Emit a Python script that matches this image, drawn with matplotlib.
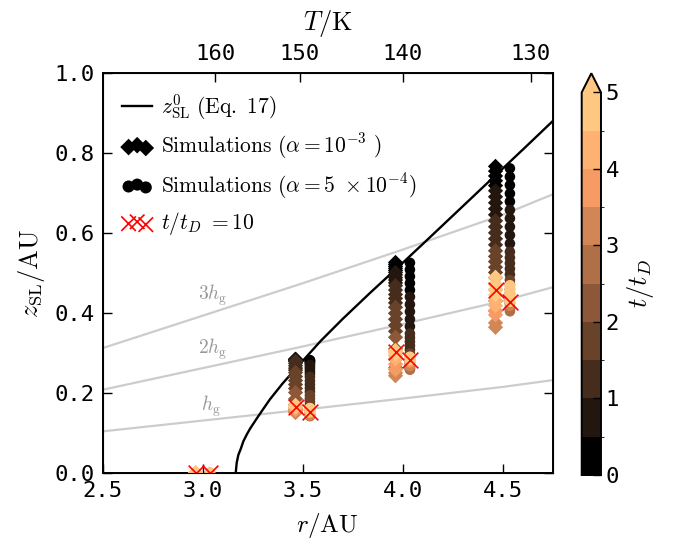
import numpy as np
import matplotlib
matplotlib.use("Agg")
import matplotlib.pyplot as plt
from matplotlib.colors import ListedColormap, BoundaryNorm
from matplotlib.cm import ScalarMappable
from matplotlib.lines import Line2D

plt.rcParams['font.family'] = 'DejaVu Sans Mono'
plt.rcParams['mathtext.fontset'] = 'cm'
plt.rcParams['font.size'] = 16

# snow line height z_SL^0 (Eq. 17)
r_curve = [3.165, 3.17, 3.178, 3.19, 3.203, 3.22, 3.237, 3.27, 3.30, 3.336, 3.40,
           3.50, 3.59, 3.70, 3.837, 4.0, 4.128, 4.287, 4.45, 4.603, 4.75]
z_curve = [0.0, 0.026, 0.045, 0.060, 0.079, 0.096, 0.111, 0.136, 0.158, 0.184, 0.224,
           0.280, 0.330, 0.385, 0.450, 0.525, 0.585, 0.660, 0.737, 0.809, 0.879]

# gas scale height h_g
r_hg = [2.5, 3.0, 3.5, 4.0, 4.5, 4.75]
hg = [0.104, 0.131, 0.158, 0.186, 0.215, 0.232]

# simulation snapshots (t / t_D)
t_snap = [0.0, 0.1, 0.2, 0.3, 0.4, 0.5, 0.6, 0.7, 0.8, 0.9, 1.0, 1.1, 1.2, 1.3, 1.4,
          1.5, 1.6, 1.7, 1.8, 1.9, 2.0, 2.25, 2.5, 2.75, 3.0, 3.25, 3.5, 3.75, 4.0,
          4.25, 4.5, 4.75, 5.0, 6.0, 8.0, 10.0]

r_sim = [3.0, 3.5, 4.0, 4.5]
dr = 0.036

# alpha = 1e-3 (diamonds)
z_d35 = [0.284, 0.284, 0.283, 0.283, 0.282, 0.282, 0.281, 0.281, 0.280, 0.280, 0.279,
         0.274, 0.268, 0.262, 0.257, 0.251, 0.241, 0.231, 0.221, 0.211, 0.201,
         0.185, 0.170, 0.158, 0.151, 0.153, 0.158, 0.162, 0.165, 0.167, 0.168,
         0.168, 0.168, 0.167, 0.166, 0.166]
z_d40 = [0.526, 0.521, 0.516, 0.511, 0.506, 0.501, 0.495, 0.488, 0.482, 0.475, 0.468,
         0.457, 0.446, 0.436, 0.425, 0.414, 0.399, 0.384, 0.369, 0.354, 0.339,
         0.310, 0.285, 0.263, 0.250, 0.243, 0.258, 0.272, 0.285, 0.293, 0.298,
         0.302, 0.304, 0.306, 0.304, 0.303]
z_d45 = [0.766, 0.754, 0.742, 0.730, 0.718, 0.705, 0.690, 0.675, 0.660, 0.645, 0.630,
         0.615, 0.600, 0.585, 0.570, 0.555, 0.541, 0.528, 0.514, 0.501, 0.488,
         0.458, 0.430, 0.405, 0.375, 0.364, 0.395, 0.405, 0.418, 0.430, 0.445,
         0.458, 0.470, 0.489, 0.472, 0.4575]

# alpha = 5e-4 (circles)
z_c35 = [0.282, 0.281, 0.279, 0.277, 0.274, 0.270, 0.265, 0.260, 0.254, 0.247, 0.240,
         0.230, 0.221, 0.212, 0.203, 0.194, 0.186, 0.178, 0.170, 0.164, 0.158,
         0.148, 0.143, 0.142, 0.144, 0.147, 0.150, 0.153, 0.156, 0.158, 0.160,
         0.161, 0.162, 0.162, 0.157, 0.153]
z_c40 = [0.525, 0.508, 0.491, 0.474, 0.457, 0.440, 0.421, 0.403, 0.384, 0.366, 0.348,
         0.338, 0.328, 0.318, 0.308, 0.298, 0.290, 0.283, 0.276, 0.270, 0.265,
         0.260, 0.258, 0.262, 0.267, 0.272, 0.277, 0.281, 0.285, 0.288, 0.290,
         0.290, 0.289, 0.287, 0.284, 0.2825]
z_c45 = [0.761, 0.740, 0.719, 0.698, 0.678, 0.657, 0.636, 0.615, 0.594, 0.573, 0.5525,
         0.538, 0.524, 0.510, 0.496, 0.482, 0.471, 0.459, 0.448, 0.436, 0.425,
         0.410, 0.404, 0.410, 0.418, 0.425, 0.432, 0.440, 0.447, 0.453, 0.458,
         0.463, 0.467, 0.469, 0.445, 0.428]

# r = 3 AU: no snow line
t_30 = [0.0, 2.0, 4.0, 6.0, 8.0, 10.0]
z_30 = [0.0, 0.0, 0.0, 0.0, 0.0, 0.0]

T_ticks = [160, 150, 140, 130]
T0 = 280.0  # T = T0 (r/AU)^-1/2

levels = [0, 0.5, 1, 1.5, 2, 2.5, 3, 3.5, 4, 4.5, 5]
base = plt.get_cmap('copper')
cmap = ListedColormap([base(i / 9.0) for i in range(10)])
cmap.set_over(base(1.0))
norm = BoundaryNorm(levels, cmap.N)

fig = plt.figure(figsize=(6.79, 5.44), dpi=100)
ax = fig.add_axes([0.1513, 0.1305, 0.6627, 0.7359])

r_line = np.array(r_hg)
h_line = np.array(hg)
for k in [1, 2, 3]:
    ax.plot(r_line, k * h_line, color='#cccccc', lw=1.6, zorder=1)
ax.text(2.975, 0.443, r'$3h_{\rm g}$', color='#999999', fontsize=14, va='center')
ax.text(2.975, 0.31, r'$2h_{\rm g}$', color='#999999', fontsize=14, va='center')
ax.text(2.99, 0.168, r'$h_{\rm g}$', color='#999999', fontsize=14, va='center')

ax.plot(r_curve, z_curve, color='k', lw=1.7, zorder=2)

ms_d = 60
ms_c = 58
cols_d = [(t_30, z_30), (t_snap, z_d35), (t_snap, z_d40), (t_snap, z_d45)]
cols_c = [(t_30, z_30), (t_snap, z_c35), (t_snap, z_c40), (t_snap, z_c45)]
x_end, z_end = [], []
for r0, (tt, zz) in zip(r_sim, cols_d):
    ax.scatter([r0 - dr] * len(zz), zz, c=tt, cmap=cmap, norm=norm, marker='D',
               s=ms_d, edgecolors='none', zorder=3)
    x_end.append(r0 - dr)
    z_end.append(zz[-1])
for r0, (tt, zz) in zip(r_sim, cols_c):
    ax.scatter([r0 + dr] * len(zz), zz, c=tt, cmap=cmap, norm=norm, marker='o',
               s=ms_c, edgecolors='none', zorder=3)
    x_end.append(r0 + dr)
    z_end.append(zz[-1])
ax.scatter(x_end, z_end, marker='x', color='red', s=128, linewidths=1.2, zorder=4)

ax.set_xlim(2.5, 4.75)
ax.set_ylim(0, 1.0)
ax.set_xticks([2.5, 3.0, 3.5, 4.0, 4.5])
ax.set_yticks([0.0, 0.2, 0.4, 0.6, 0.8, 1.0])
ax.set_xlabel(r'$r/\mathrm{AU}$', fontsize=18, labelpad=7)
ax.set_ylabel(r'$z_{\rm SL}/\mathrm{AU}$', fontsize=19, labelpad=5)
ax.tick_params(direction='in', length=6.5, width=1, top=False, right=True, labelsize=16, pad=6)
for sp in ax.spines.values():
    sp.set_linewidth(1.4)

ax2 = ax.twiny()
ax2.set_xlim(ax.get_xlim())
ax2.set_xticks([(T0 / T) ** 2 for T in T_ticks])
ax2.set_xticklabels([str(T) for T in T_ticks])
ax2.tick_params(direction='in', length=6.5, width=1, labelsize=16, pad=6)
ax2.set_xlabel(r'$T/\mathrm{K}$', fontsize=19, labelpad=10)

handles = [
    Line2D([], [], color='k', lw=1.7, label=r'$z_{\rm SL}^{0}\ (\mathrm{Eq.\ 17})$'),
    ax.scatter([], [], marker='D', c='k', s=ms_d * 1.2, edgecolors='none',
               label=r'$\mathrm{Simulations}\ (\alpha=10^{-3}\ )$'),
    ax.scatter([], [], marker='o', c='k', s=ms_c * 1.3, edgecolors='none',
               label=r'$\mathrm{Simulations}\ (\alpha=5\ \times 10^{-4})$'),
    ax.scatter([], [], marker='x', color='red', s=110, linewidths=1.2,
               label=r'$t/t_D\ =10$'),
]
ax.legend(handles=handles, loc='upper left', frameon=False, fontsize=15.5,
          scatterpoints=3, scatteryoffsets=[0.375, 0.5, 0.3125],
          handlelength=1.4, handletextpad=0.4, labelspacing=0.45)

cax = fig.add_axes([0.8567, 0.1268, 0.0284, 0.7385])
cb = fig.colorbar(ScalarMappable(norm=norm, cmap=cmap), cax=cax, extend='max',
                  ticks=[0, 1, 2, 3, 4, 5])
cb.ax.tick_params(direction='in', length=6, width=1, labelsize=16)
cb.outline.set_linewidth(1.4)
cb.set_label(r'$t/t_D$', fontsize=19)

fig.savefig('out.png', dpi=100)
